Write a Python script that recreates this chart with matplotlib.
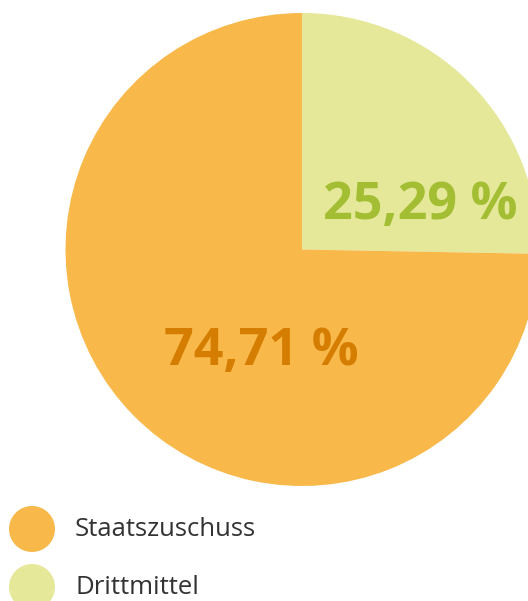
import matplotlib
matplotlib.use("Agg")
import matplotlib.pyplot as plt
from matplotlib.patches import Circle

# data
categories = ["Staatszuschuss", "Drittmittel"]
shares = [74.71, 25.29]
slice_colors = ["#F8B84A", "#E4E898"]
label_colors = ["#D47D00", "#A3BE33"]

W, H = 528, 601
fig = plt.figure(figsize=(W / 100, H / 100), dpi=100)
ax = fig.add_axes([0, 0, 1, 1])

cx, cy, r = 302, H - 249.5, 236.5

# Drittmittel runs clockwise from 12 o'clock
ax.pie(shares[::-1], colors=slice_colors[::-1], startangle=90, counterclock=False,
       center=(cx, cy), radius=r, frame=True,
       wedgeprops={"linewidth": 0})
ax.set_xlim(0, W)
ax.set_ylim(0, H)
ax.set_aspect("equal")
ax.axis("off")

label_pos = [(261, H - 351), (420, H - 205)]
for val, col, (x, y) in zip(shares, label_colors, label_pos):
    txt = f"{val:.2f}".replace(".", ",") + " %"
    ax.text(x, y, txt, color=col, fontsize=37.5, fontweight="bold",
            family="Open Sans", ha="center", va="center")

# legend
for i, (name, col) in enumerate(zip(categories, slice_colors)):
    y = H - 529 - i * 58
    ax.add_patch(Circle((32, y), 23, color=col, lw=0))
    ax.text(75, y - 1, name, color="#333333", fontsize=18.5, family="Open Sans",
            ha="left", va="center")

fig.savefig("out.png", dpi=100, facecolor="white")
